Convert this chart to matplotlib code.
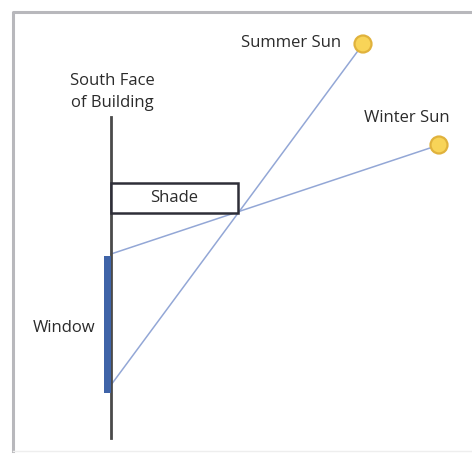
import matplotlib.pyplot as plt
from matplotlib.patches import Rectangle, Circle

# Diagram points, in picture pixels (x right, y down)
summer_sun = (363, 44)
winter_sun = (439, 145)
wall_x = 111
wall_top, wall_bottom = 117, 438
window_top, window_bottom = 256, 393
shade_x = (111, 238)
shade_y = (183, 213)

labels = {
    "South Face\nof Building": (112, 92),
    "Shade": (174, 198),
    "Window": (64, 328),
    "Summer Sun": (291, 43),
    "Winter Sun": (407, 118),
}

plt.rcParams['font.family'] = ['Open Sans', 'DejaVu Sans']

fig = plt.figure(figsize=(4.72, 4.55), dpi=100)
ax = fig.add_axes([0, 0, 1, 1])
ax.set_xlim(0, 472)
ax.set_ylim(455, 0)
ax.axis('off')

# frame round the picture (only top, left and a faint bottom show)
ax.plot([13, 13, 472], [451, 12, 12], color='#b8b8bc', lw=2.2)
ax.plot([13, 472], [451, 451], color='#eeeeee', lw=1)

# rays from the suns past the shade edge to the window
ray_color = '#93a7d6'
ax.plot([summer_sun[0], wall_x], [summer_sun[1], window_bottom - 8], color=ray_color, lw=1.1)
ax.plot([winter_sun[0], wall_x], [winter_sun[1], window_top - 2], color=ray_color, lw=1.1)

# building wall
ax.plot([wall_x, wall_x], [wall_top, wall_bottom], color='#4a4a4a', lw=2)

# window
ax.add_patch(Rectangle((104, window_top), 7, window_bottom - window_top,
                       facecolor='#3f64a8', edgecolor='none', zorder=3))

# shade
ax.add_patch(Rectangle((shade_x[0], shade_y[0]), shade_x[1] - shade_x[0],
                       shade_y[1] - shade_y[0], facecolor='white',
                       edgecolor='#2e2e38', lw=1.8, zorder=2))

# suns
for sx, sy in (summer_sun, winter_sun):
    ax.add_patch(Circle((sx, sy), 8.5, facecolor='#f8d458',
                        edgecolor='#e0b23c', lw=1.6, zorder=4))

for text, (tx, ty) in labels.items():
    ax.text(tx, ty, text, ha='center', va='center', fontsize=12,
            color='#2b2b2b', linespacing=1.45)

fig.savefig('out.png', dpi=100, facecolor='white')
